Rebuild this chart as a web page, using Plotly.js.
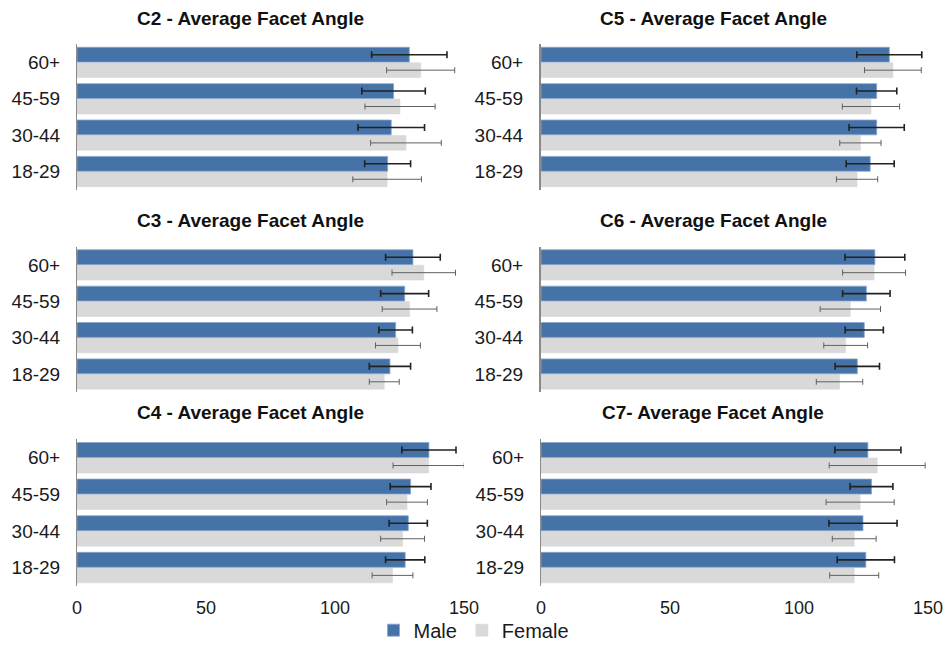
<!DOCTYPE html>
<html>
<head>
<meta charset="utf-8">
<script src="https://cdn.plot.ly/plotly-3.0.1.min.js"></script>
<style>html,body{margin:0;padding:0;background:#fff;}#chart{width:949px;height:650px;}</style>
</head>
<body>
<div id="chart"></div>
<script>
// Categories (bottom to top)
var ageGroups = ['18-29', '30-44', '45-59', '60+'];
var panelTitles = ['C2 - Average Facet Angle', 'C5 - Average Facet Angle',
                   'C3 - Average Facet Angle', 'C6 - Average Facet Angle',
                   'C4 - Average Facet Angle', 'C7- Average Facet Angle'];
var xTicks = [0, 50, 100, 150];

// Values per panel (order: 18-29, 30-44, 45-59, 60+)
var c2Male = [120.4, 121.8, 122.7, 128.8];
var c2MaleErr = [8.9, 12.9, 12.3, 14.6];
var c2Female = [120.2, 127.5, 125.2, 133.2];
var c2FemaleErr = [13.3, 13.7, 13.6, 13.2];

var c5Male = [127.6, 130.1, 130.1, 135.0];
var c5MaleErr = [9.3, 10.7, 7.8, 12.6];
var c5Female = [122.5, 123.8, 127.9, 136.4];
var c5FemaleErr = [8.0, 8.0, 11.1, 11.0];

var c3Male = [121.3, 123.5, 127.0, 130.2];
var c3MaleErr = [8.0, 6.5, 9.3, 10.6];
var c3Female = [119.1, 124.4, 128.9, 134.4];
var c3FemaleErr = [5.8, 8.7, 10.6, 12.3];

var c6Male = [122.6, 125.3, 126.1, 129.4];
var c6MaleErr = [8.6, 7.4, 9.2, 11.6];
var c6Female = [115.7, 118.1, 119.9, 129.1];
var c6FemaleErr = [9.0, 8.5, 11.7, 12.2];

var c4Male = [127.2, 128.4, 129.3, 136.4];
var c4MaleErr = [7.6, 7.4, 7.9, 10.5];
var c4Female = [122.3, 126.2, 127.9, 136.3];
var c4FemaleErr = [7.9, 8.5, 7.9, 13.8];

var c7Male = [125.9, 124.8, 128.1, 126.7];
var c7MaleErr = [11.1, 13.2, 8.3, 12.8];
var c7Female = [121.4, 121.4, 123.7, 130.3];
var c7FemaleErr = [9.5, 8.5, 13.2, 18.6];

var panels = [
  [c2Male, c2MaleErr, c2Female, c2FemaleErr],
  [c5Male, c5MaleErr, c5Female, c5FemaleErr],
  [c3Male, c3MaleErr, c3Female, c3FemaleErr],
  [c6Male, c6MaleErr, c6Female, c6FemaleErr],
  [c4Male, c4MaleErr, c4Female, c4FemaleErr],
  [c7Male, c7MaleErr, c7Female, c7FemaleErr]
];

var W = 949, H = 650;
var colDom = [[77 / W, 464 / W], [541 / W, 928 / W]];
var rowPix = [[45, 193], [251, 399], [447, 596]];
var titleX = [250 / W, 713 / W];
var titleY = [19, 224, 420];
var axisLineW = [1, 2, 1, 2, 1, 1];

var maleColor = '#4572a7';
var femaleColor = '#d9d9d9';
var fontFam = 'Liberation Sans, Arial, sans-serif';

var data = [];
var layout = {
  width: W, height: H,
  margin: {l: 0, r: 0, t: 0, b: 0},
  paper_bgcolor: '#fff', plot_bgcolor: '#fff',
  barmode: 'group', bargap: 0.15, bargroupgap: 0.04,
  showlegend: true,
  legend: {orientation: 'h', x: 474 / W, xanchor: 'center', y: 1 - 641 / H, yanchor: 'middle',
           traceorder: 'reversed', font: {family: fontFam, size: 20, color: '#1a1a1a'},
           bgcolor: 'rgba(0,0,0,0)', itemwidth: 30, tracegroupgap: 0},
  font: {family: fontFam, color: '#1a1a1a'},
  annotations: []
};

panels.forEach(function (p, i) {
  var row = Math.floor(i / 2), col = i % 2;
  var suf = i === 0 ? '' : String(i + 1);
  var xa = 'x' + suf, ya = 'y' + suf;
  data.push({
    type: 'bar', orientation: 'h', name: 'Female', legendgroup: 'f', showlegend: i === 0,
    y: ageGroups, x: p[2], xaxis: xa, yaxis: ya,
    marker: {color: femaleColor, line: {color: '#d4d4d4', width: 0.5}},
    error_x: {type: 'data', array: p[3], visible: true, color: '#606060', thickness: 1, width: 3},
    hoverinfo: 'x+y+name'
  });
  data.push({
    type: 'bar', orientation: 'h', name: 'Male', legendgroup: 'm', showlegend: i === 0,
    y: ageGroups, x: p[0], xaxis: xa, yaxis: ya,
    marker: {color: maleColor, line: {color: '#8aa6cf', width: 0.8}},
    error_x: {type: 'data', array: p[1], visible: true, color: '#222', thickness: 1.6, width: 3.5},
    hoverinfo: 'x+y+name'
  });
  layout['xaxis' + suf] = {
    domain: colDom[col], range: [0, 150], anchor: ya,
    tickvals: xTicks, ticktext: xTicks.map(String),
    showticklabels: row === 2, ticks: row === 2 ? 'outside' : '', ticklen: 5,
    tickcolor: 'rgba(0,0,0,0)',
    showgrid: false, zeroline: false, showline: false,
    tickfont: {family: fontFam, size: 18, color: '#1a1a1a'}, fixedrange: true
  };
  layout['yaxis' + suf] = {
    domain: [1 - rowPix[row][1] / H, 1 - rowPix[row][0] / H], anchor: xa,
    type: 'category', categoryorder: 'array', categoryarray: ageGroups,
    range: [-0.5, 3.5],
    showline: true, linecolor: '#8a8a8a', linewidth: axisLineW[i],
    ticks: 'outside', ticklen: 12, tickcolor: 'rgba(0,0,0,0)',
    showgrid: false, zeroline: false,
    tickfont: {family: fontFam, size: 19, color: '#1a1a1a'}, fixedrange: true
  };
  layout.annotations.push({
    text: '<b>' + panelTitles[i] + '</b>', xref: 'paper', yref: 'paper',
    x: titleX[col], y: 1 - titleY[row] / H, xanchor: 'center', yanchor: 'middle',
    showarrow: false, font: {family: fontFam, size: 19, color: '#111'}
  });
});

Plotly.newPlot('chart', data, layout, {displayModeBar: false});
</script>
</body>
</html>
